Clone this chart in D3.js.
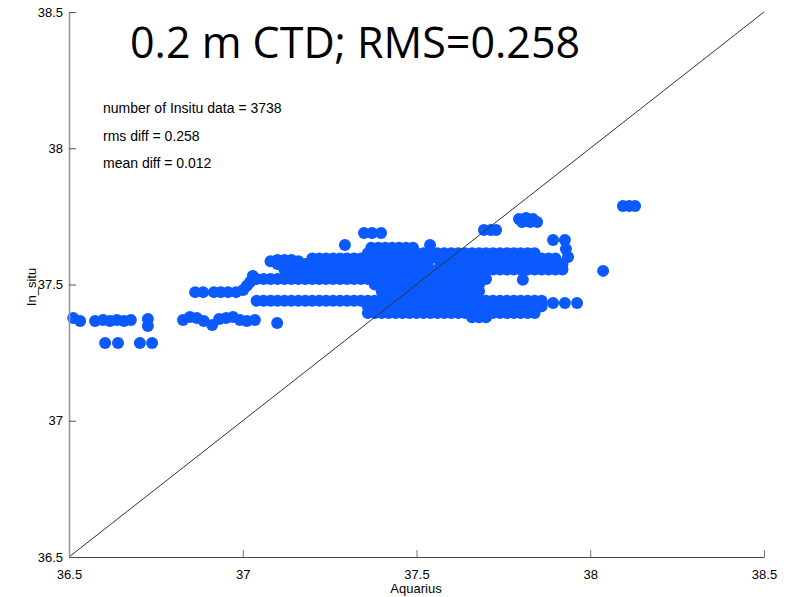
<!DOCTYPE html>
<html>
<head>
<meta charset="utf-8">
<script src="https://cdn.jsdelivr.net/npm/d3@7"></script>
<style>
  html, body { margin: 0; padding: 0; background: #fff; }
  svg { display: block; }
</style>
</head>
<body>
<svg id="chart" width="786" height="597"></svg>
<script>
// ---------------- data ----------------
const titleText = "0.2 m CTD; RMS=0.258";
const statLines = ["number of Insitu data = 3738", "rms diff = 0.258", "mean diff = 0.012"];
const xLabel = "Aquarius";
const yLabel = "In_situ";
const xTicks = [36.5, 37, 37.5, 38, 38.5];
const xTickLabels = ["36.5", "37", "37.5", "38", "38.5"];
const yTicks = [36.5, 37, 37.5, 38, 38.5];
const yTickLabels = ["36.5", "37", "37.5", "38", "38.5"];
const axisDomain = [36.5, 38.5];

// dense cloud: [in-situ value, aquarius values]
const denseRows = [
  [37.635, [37.37,37.39,37.41,37.43,37.45,37.47,37.49]],
  [37.615, [37.36,37.38,37.40,37.42,37.44,37.46,37.48,37.50,37.52,37.54,37.56,37.58,37.60,37.62,37.64,37.66,37.68,37.70,37.72,37.74,37.76,37.78,37.80,37.82,37.84]],
  [37.595, [37.20,37.22,37.24,37.26,37.28,37.30,37.32,37.34,37.36,37.38,37.40,37.42,37.44,37.46,37.48,37.50,37.52,37.54,37.56,37.58,37.60,37.62,37.64,37.66,37.68,37.70,37.72,37.74,37.76,37.78,37.80,37.82,37.84,37.86,37.88,37.90]],
  [37.575, [37.10,37.12,37.14,37.16,37.18,37.20,37.22,37.24,37.26,37.28,37.30,37.32,37.34,37.36,37.38,37.40,37.42,37.44,37.46,37.48,37.50,37.52,37.58,37.60,37.62,37.64,37.66,37.68,37.70,37.72,37.74,37.76,37.78,37.80,37.82,37.84,37.86,37.88,37.90,37.92]],
  [37.555, [37.12,37.14,37.16,37.18,37.20,37.22,37.24,37.26,37.28,37.30,37.32,37.34,37.36,37.38,37.40,37.42,37.44,37.46,37.48,37.50,37.52,37.54,37.56,37.58,37.60,37.62,37.64,37.66,37.68,37.70,37.72,37.74,37.76,37.78,37.80,37.82,37.84,37.86,37.88,37.90,37.92]],
  [37.520, [37.04,37.06,37.08,37.10,37.12,37.14,37.16,37.18,37.20,37.22,37.24,37.26,37.28,37.30,37.32,37.34,37.36,37.38,37.40,37.42,37.44,37.46,37.48,37.50,37.52,37.54,37.56,37.58,37.60,37.62,37.64,37.66,37.68,37.70]],
  [37.500, [37.38,37.40,37.42,37.44,37.46,37.48,37.50,37.52,37.54,37.56,37.58,37.60,37.62,37.64,37.66,37.68]],
  [37.475, [37.40,37.42,37.44,37.46,37.48,37.50,37.52,37.54,37.56,37.58,37.60,37.62,37.64,37.66,37.68]],
  [37.440, [37.04,37.06,37.08,37.10,37.12,37.14,37.16,37.18,37.20,37.22,37.24,37.26,37.28,37.30,37.32,37.34,37.36,37.38,37.40,37.42,37.44,37.46,37.48,37.50,37.52,37.54,37.56,37.58,37.60,37.62,37.64,37.66,37.68,37.70,37.72,37.74,37.76,37.78,37.80,37.82,37.84,37.86]],
  [37.420, [37.36,37.38,37.40,37.42,37.44,37.46,37.48,37.50,37.52,37.54,37.56,37.58,37.60,37.62,37.64,37.66,37.68,37.70,37.72,37.74,37.76,37.78,37.80,37.82,37.84,37.86]],
  [37.395, [37.36,37.38,37.40,37.42,37.44,37.46,37.48,37.50,37.52,37.54,37.56,37.58,37.60,37.62,37.64,37.66,37.68,37.70,37.72,37.74,37.76,37.78,37.80,37.82,37.84]],
  [37.380, [37.66,37.68,37.70]]
];

// scattered points: [aquarius, in-situ]
const scatterPoints = [
  [36.512,37.377],[36.532,37.366],[36.575,37.366],[36.598,37.370],[36.618,37.366],[36.638,37.370],
  [36.658,37.366],[36.678,37.370],[36.727,37.373],[36.727,37.348],
  [36.604,37.285],[36.641,37.285],[36.704,37.285],[36.739,37.285],
  [36.828,37.370],[36.848,37.381],[36.868,37.377],[36.888,37.366],[36.912,37.351],[36.932,37.373],
  [36.952,37.377],[36.972,37.381],[36.992,37.370],[37.012,37.366],[37.035,37.370],[37.099,37.359],
  [36.863,37.472],[36.886,37.472],[36.917,37.472],[36.937,37.472],[36.958,37.472],[36.981,37.472],
  [37.001,37.480],[37.012,37.495],[37.021,37.509],[37.029,37.531],
  [37.08,37.585],[37.10,37.590],[37.12,37.590],[37.14,37.590],[37.16,37.585],
  [37.349,37.689],[37.372,37.689],[37.398,37.689],
  [37.294,37.645],[37.539,37.645],
  [37.694,37.700],[37.714,37.700],[37.729,37.700],
  [37.795,37.740],[37.815,37.744],[37.835,37.740],[37.847,37.729],[37.804,37.729],[37.827,37.729],
  [38.094,37.788],[38.112,37.788],[38.129,37.788],
  [37.893,37.663],[37.927,37.663],[37.930,37.630],[37.936,37.601],
  [38.037,37.550],
  [37.893,37.432],[37.927,37.432],[37.962,37.432],
  [37.806,37.517]
];

// ---------------- drawing ----------------
const svg = d3.select("#chart");
const x = d3.scaleLinear().domain(axisDomain).range([69, 764]);
const y = d3.scaleLinear().domain(axisDomain).range([557, 12]);

const points = [];
denseRows.forEach(([yv, xs]) => xs.forEach(xv => points.push([xv, yv])));
scatterPoints.forEach(p => points.push(p));

svg.append("g").selectAll("circle").data(points).join("circle")
  .attr("cx", d => x(d[0]))
  .attr("cy", d => y(d[1]))
  .attr("r", 6)
  .attr("fill", "#0a5aff");

// 1:1 line
svg.append("line")
  .attr("x1", x(axisDomain[0])).attr("y1", y(axisDomain[0]))
  .attr("x2", x(axisDomain[1])).attr("y2", y(axisDomain[1]))
  .attr("stroke", "#333").attr("stroke-width", 1);

// axes
const xAxis = d3.axisBottom(x).tickValues(xTicks)
  .tickFormat((d, i) => xTickLabels[i]).tickSizeInner(-7).tickSizeOuter(0).tickPadding(13);
const gx = svg.append("g").attr("transform", "translate(0,557)").call(xAxis);
gx.select(".domain").attr("stroke", "#444").attr("stroke-width", 1.2);
gx.selectAll(".tick line").attr("stroke", "#777");
gx.selectAll("text").attr("font-family", "Liberation Sans, Arial, sans-serif").attr("font-size", 13).attr("fill", "#000");

const yAxis = d3.axisLeft(y).tickValues(yTicks)
  .tickFormat((d, i) => yTickLabels[i]).tickSizeInner(-7).tickSizeOuter(0).tickPadding(6);
const gy = svg.append("g").attr("transform", "translate(69,0)").call(yAxis);
gy.select(".domain").attr("stroke", "#999").attr("stroke-width", 1.6);
gy.selectAll(".tick line").attr("stroke", "#555");
gy.selectAll("text").attr("font-family", "Liberation Sans, Arial, sans-serif").attr("font-size", 13).attr("fill", "#000");

// axis labels
svg.append("text").attr("x", 416).attr("y", 593).attr("text-anchor", "middle")
  .attr("font-family", "Liberation Sans, Arial, sans-serif").attr("font-size", 13).text(xLabel);
svg.append("text").attr("transform", "translate(36,287) rotate(-90)").attr("text-anchor", "middle")
  .attr("font-family", "Liberation Sans, Arial, sans-serif").attr("font-size", 13).text(yLabel);

// stats
svg.append("g").selectAll("text").data(statLines).join("text")
  .attr("x", 103).attr("y", (d, i) => 113 + i * 27.5)
  .attr("font-family", "Liberation Sans, Arial, sans-serif").attr("font-size", 14).text(d => d);

// title
svg.append("text").attr("x", 130).attr("y", 58)
  .attr("font-family", "Open Sans, sans-serif").attr("font-size", 43).attr("fill", "#000")
  .text(titleText);
</script>
</body>
</html>
